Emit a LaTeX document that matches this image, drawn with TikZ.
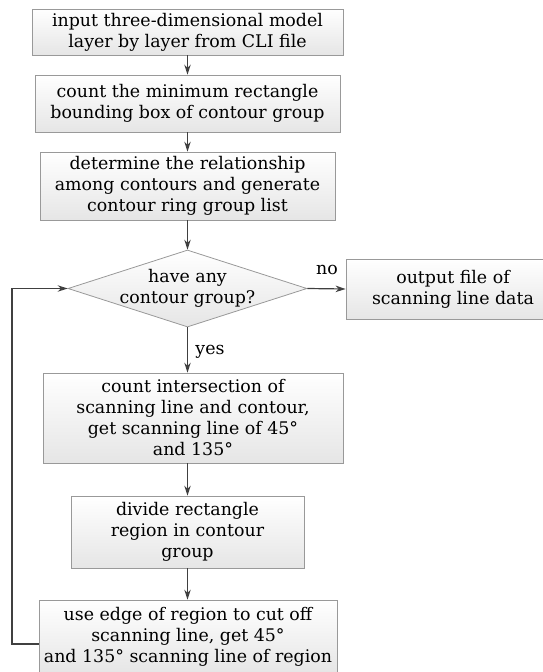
\documentclass[tikz,border=0pt]{standalone}
\usepackage{fontspec}
\setmainfont{DejaVu Serif}
\usetikzlibrary{arrows.meta,shapes.geometric}
\begin{document}
\begin{tikzpicture}[x=1pt,y=-1pt,
  font=\fontsize{17.4}{21}\selectfont,
  box/.style={draw=black!40, line width=0.8pt, top color=white, bottom color=black!10, align=center, inner sep=0pt, anchor=center},
  arr/.style={draw=black!75, line width=1.2pt, -{Stealth[length=10pt,width=6.5pt]}},
  lbl/.style={inner sep=0pt, anchor=center}]
\useasboundingbox (0,0) rectangle (542,672);
\node[box, minimum width=311pt, minimum height=46pt] (b1) at (187.5,32) {input three-dimensional model\\layer by layer from CLI file};
\node[box, minimum width=305pt, minimum height=57pt] (b2) at (187.5,103.5) {count the minimum rectangle\\bounding box of contour group};
\node[box, minimum width=295pt, minimum height=68pt] (b3) at (187.5,186) {determine the relationship\\among contours and generate\\contour ring group list};
\node[diamond, draw=black!40, line width=0.8pt, top color=white, bottom color=black!10, inner sep=0pt, minimum width=239pt, minimum height=77pt] (d) at (187.5,288.5) {};
\node[lbl, align=center] (dt) at (d.center) {have any\\contour group?};
\node[box, minimum width=214pt, minimum height=60pt] (out) at (453,289) {output file of\\scanning line data};
\node[box, minimum width=300pt, minimum height=90pt] (b4) at (193,418) {count intersection of\\scanning line and contour,\\get scanning line of 45°\\and 135°};
\node[box, minimum width=233pt, minimum height=72pt] (b5) at (187.5,532) {divide rectangle\\region in contour\\group};
\node[box, minimum width=298pt, minimum height=73pt] (b6) at (188,636.5) {use edge of region to cut off\\scanning line, get 45°\\and 135° scanning line of region};
\draw[arr] (b1.south) -- (b2.north);
\draw[arr] (b2.south) -- (b3.north);
\draw[arr] (b3.south) -- (d.north);
\draw[arr] (d.east) -- (out.west);
\draw[arr] (d.south) -- (d.south |- b4.north);
\draw[arr] (d.south |- b4.south) -- (d.south |- b5.north);
\draw[arr] (d.south |- b5.south) -- (d.south |- b6.north);
\coordinate (lp) at (12,644);
\draw[arr] ([yshift=-7.5pt]b6.west) -- (lp) -- (lp |- d.west) -- (d.west);
\node[lbl] (no) at (327,270) {no};
\node[lbl] (yes) at (210,352) {yes};
\end{tikzpicture}
\end{document}
